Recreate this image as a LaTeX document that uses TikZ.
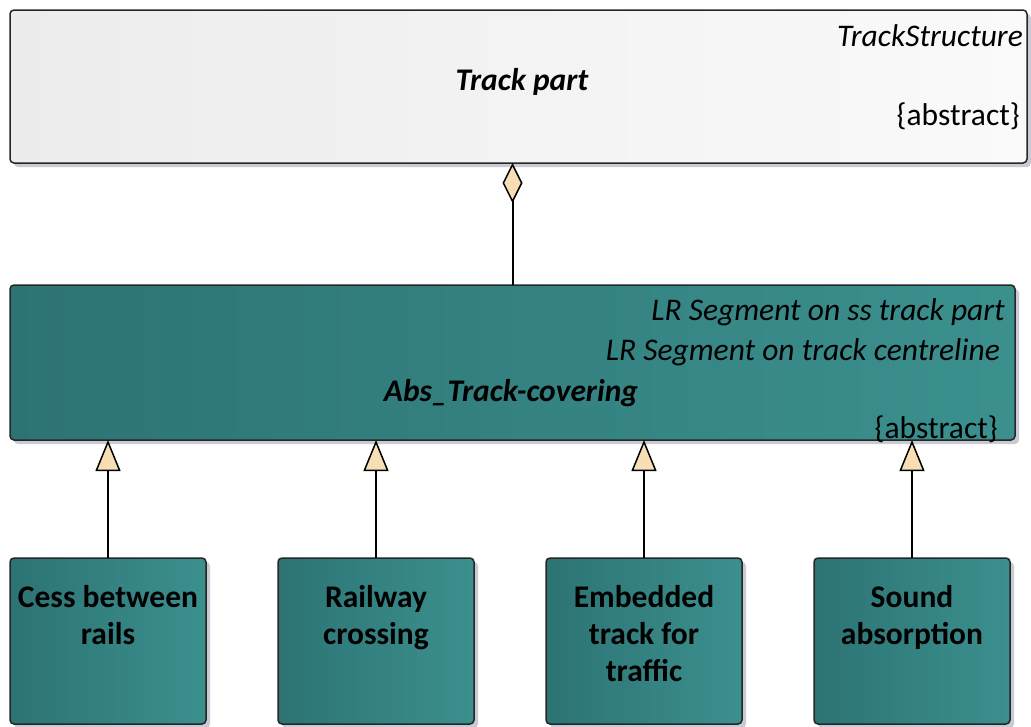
\documentclass[tikz,border=0pt]{standalone}
\usepackage{fontspec}
\setmainfont{Carlito}
\usepackage{tikz}
\usetikzlibrary{calc,positioning,arrows.meta,shadows}

\definecolor{tealleft}{RGB}{45,115,116}
\definecolor{tealright}{RGB}{59,144,142}
\definecolor{greyleft}{RGB}{236,236,236}
\definecolor{greyright}{RGB}{250,250,250}
\definecolor{shadowgrey}{RGB}{200,203,211}
\definecolor{headfill}{RGB}{248,222,180}

\tikzset{
  umlbox/.style={draw=black!85, line width=1.5pt, rounded corners=4pt, outer sep=0pt,
    inner sep=0pt, general shadow={fill=shadowgrey, shadow xshift=4pt, shadow yshift=-4pt}},
  tealbox/.style={umlbox, left color=tealleft, right color=tealright},
  greybox/.style={umlbox, left color=greyleft, right color=greyright},
  leafbox/.style={tealbox, minimum width=196pt, minimum height=166pt},
  txt/.style={inner sep=0pt, font=\fontsize{31.5}{37}\selectfont},
  leaftxt/.style={txt, align=center, font=\fontsize{31.5}{37}\selectfont\bfseries, anchor=base},
  aggregation/.style={line width=2pt, {Diamond[length=40pt,width=20pt,fill=headfill,line width=1.5pt]}-},
  generalisation/.style={line width=2pt, {Triangle[length=31pt,width=25pt,fill=headfill,line width=1.5pt]}-}
}

\begin{document}
\begin{tikzpicture}[x=1pt,y=-1pt]
  \useasboundingbox (0,0) rectangle (1031,726);
  % Abstract parent class
  \node[greybox, anchor=north west, minimum width=1017pt, minimum height=153pt] (track) at (10,10) {};
  \node[txt, anchor=base east, font=\fontsize{31.5}{37}\selectfont\itshape] (trackstereo) at ($(track.north east)+(-4,36)$) {TrackStructure};
  \node[txt, anchor=base, font=\fontsize{31.5}{37}\selectfont\bfseries\itshape] (trackname) at (522,90) {Track part};
  \node[txt, anchor=base east] (trackabs) at ($(track.north east)+(-7,115)$) {\{abstract\}};
  % Abstract covering class
  \node[tealbox, anchor=north west, minimum width=1005pt, minimum height=155pt] (abs) at (10,285) {};
  \node[txt, anchor=base east, font=\fontsize{31.5}{37}\selectfont\itshape] (absstereoa) at ($(abs.north east)+(-10,35)$) {LR Segment on ss track part};
  \node[txt, anchor=base east, font=\fontsize{31.5}{37}\selectfont\itshape] (absstereob) at ($(abs.north east)+(-15,75)$) {LR Segment on track centreline};
  \node[txt, anchor=base, font=\fontsize{31.5}{37}\selectfont\bfseries\itshape] (absname) at (511,401) {Abs\_Track-covering};
  \node[txt, anchor=base east] (absabs) at ($(abs.north east)+(-17,153)$) {\{abstract\}};
  % Concrete covering classes
  \node[leafbox, anchor=north west] (cess) at (10,558) {};
  \node[leafbox, right=72pt of cess] (crossing) {};
  \node[leafbox, right=72pt of crossing] (embedded) {};
  \node[leafbox, right=72pt of embedded] (sound) {};
  % base anchor = last line of the label
  \node[leaftxt] (cesstxt) at ($(cess.north)+(0,86)$) {Cess between\\rails};
  \node[leaftxt] (crossingtxt) at ($(crossing.north)+(0,86)$) {Railway\\crossing};
  \node[leaftxt] (embeddedtxt) at ($(embedded.north)+(0,123)$) {Embedded\\track for\\traffic};
  \node[leaftxt] (soundtxt) at ($(sound.north)+(0,86)$) {Sound\\absorption};
  % Connectors
  \draw[aggregation] (abs.north |- track.south) -- (abs.north);
  \foreach \leaf in {cess,crossing,embedded,sound}
    \draw[generalisation] (\leaf.north |- abs.south) -- (\leaf.north);
\end{tikzpicture}
\end{document}
